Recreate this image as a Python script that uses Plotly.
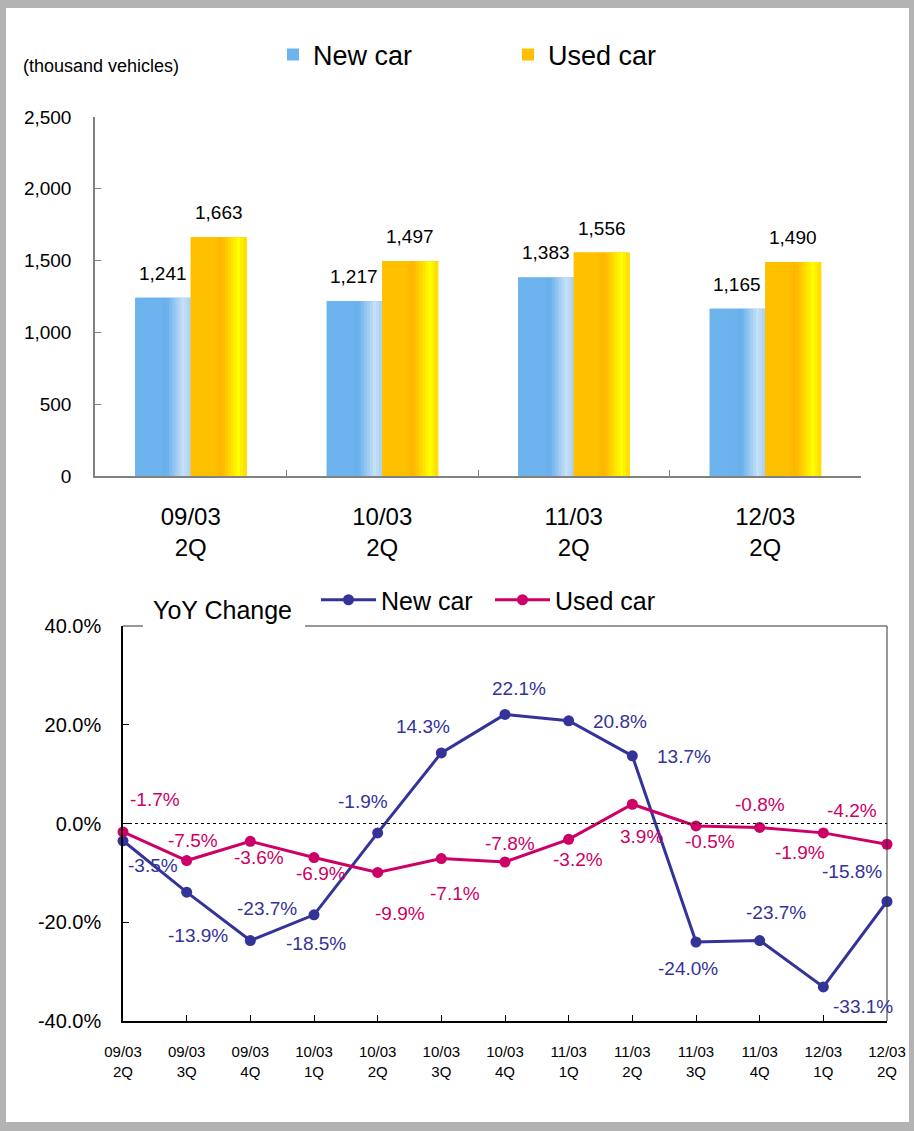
import plotly.graph_objects as go

W, H = 914, 1131

# ---------------- data ----------------
bar_periods = ["09/03<br>2Q", "10/03<br>2Q", "11/03<br>2Q", "12/03<br>2Q"]
new_units = [1241, 1217, 1383, 1165]
used_units = [1663, 1497, 1556, 1490]
unit_ticks = [0, 500, 1000, 1500, 2000, 2500]

yoy_periods = ["09/03<br>2Q", "09/03<br>3Q", "09/03<br>4Q", "10/03<br>1Q", "10/03<br>2Q",
               "10/03<br>3Q", "10/03<br>4Q", "11/03<br>1Q", "11/03<br>2Q", "11/03<br>3Q",
               "11/03<br>4Q", "12/03<br>1Q", "12/03<br>2Q"]
new_yoy = [-3.5, -13.9, -23.7, -18.5, -1.9, 14.3, 22.1, 20.8, 13.7, -24.0, -23.7, -33.1, -15.8]
used_yoy = [-1.7, -7.5, -3.6, -6.9, -9.9, -7.1, -7.8, -3.2, 3.9, -0.5, -0.8, -1.9, -4.2]
yoy_ticks = [-40, -20, 0, 20, 40]

# label placement offsets (pixels, layout only)
new_dx = [30, 11, 17, 2, -15, -18, 14, 51, 52, -8, 16, 40, -35]
new_dy = [25, 43, -32, 29, -31, -26, -26, 1, 1, 26, -28, 20, -30]
used_dx = [32, 6, 9, 7, 22, 14, 5, 9, 9, 14, 0, -23, -35]
used_dy = [-32, -20, 16, 16, 41, 35, -19, 20, 32, 16, -23, 20, -34]

FONT = "Liberation Sans, Arial, sans-serif"
NEW_C = "#333399"
USED_C = "#cc0066"


def px(x):
    return x / W


def py(y):
    return 1 - y / H


def hex2rgb(h):
    h = h.lstrip("#")
    return tuple(int(h[i:i + 2], 16) for i in (0, 2, 4))


def interp(stops, t):
    for (t0, c0), (t1, c1) in zip(stops[:-1], stops[1:]):
        if t0 <= t <= t1:
            a = 0 if t1 == t0 else (t - t0) / (t1 - t0)
            r0, g0, b0 = hex2rgb(c0)
            r1, g1, b1 = hex2rgb(c1)
            return "rgb(%d,%d,%d)" % (r0 + (r1 - r0) * a, g0 + (g1 - g0) * a, b0 + (b1 - b0) * a)
    return stops[-1][1]


blue_stops = [(0.0, "#6db3ee"), (0.46, "#6db3ee"), (0.56, "#66aeec"), (0.86, "#c6e1f8"), (1.0, "#a9d0f3")]
gold_stops = [(0.0, "#ffc000"), (0.42, "#ffc000"), (0.55, "#ffb400"), (0.86, "#ffff00"), (1.0, "#ffd800")]

fig = go.Figure()

BW = 0.29  # bar width in category units
CATW = 191.5  # px per category (for label shift)
NS = 18
for vals, stops, off0, name in [
    (new_units, blue_stops, -BW, "New car"),
    (used_units, gold_stops, 0.0, "Used car"),
]:
    fig.add_trace(go.Bar(x=bar_periods, y=vals, width=BW, offset=off0, name=name,
                         marker=dict(color=stops[0][1], line=dict(width=0)),
                         showlegend=True, legend="legend", hoverinfo="skip",
                         xaxis="x", yaxis="y"))
    for k in range(NS):
        t = (k + 0.5) / NS
        fig.add_trace(go.Bar(x=bar_periods, y=vals, width=BW / NS * 1.2,
                             offset=off0 + BW * k / NS,
                             marker=dict(color=interp(stops, t), line=dict(width=0)),
                             showlegend=False, hoverinfo="skip", xaxis="x", yaxis="y"))

annotations = []
for i, p in enumerate(bar_periods):
    annotations.append(dict(x=p, y=new_units[i], xref="x", yref="y", text=f"{new_units[i]:,}",
                            showarrow=False, xshift=-BW / 2 * CATW, yshift=12, yanchor="bottom",
                            font=dict(size=19, color="black", family=FONT)))
    annotations.append(dict(x=p, y=used_units[i], xref="x", yref="y", text=f"{used_units[i]:,}",
                            showarrow=False, xshift=BW / 2 * CATW, yshift=12, yanchor="bottom",
                            font=dict(size=19, color="black", family=FONT)))

fig.add_trace(go.Scatter(x=yoy_periods, y=new_yoy, mode="lines+markers", name="New car",
                         line=dict(color=NEW_C, width=3), marker=dict(color=NEW_C, size=11),
                         cliponaxis=False, legend="legend2", xaxis="x2", yaxis="y2", hoverinfo="skip"))
fig.add_trace(go.Scatter(x=yoy_periods, y=used_yoy, mode="lines+markers", name="Used car",
                         line=dict(color=USED_C, width=3), marker=dict(color=USED_C, size=11),
                         cliponaxis=False, legend="legend2", xaxis="x2", yaxis="y2", hoverinfo="skip"))

for i, p in enumerate(yoy_periods):
    annotations.append(dict(x=p, y=new_yoy[i], xref="x2", yref="y2", text=f"{new_yoy[i]:.1f}%",
                            showarrow=False, xshift=new_dx[i], yshift=-new_dy[i],
                            font=dict(size=19, color=NEW_C, family=FONT)))
    annotations.append(dict(x=p, y=used_yoy[i], xref="x2", yref="y2", text=f"{used_yoy[i]:.1f}%",
                            showarrow=False, xshift=used_dx[i], yshift=-used_dy[i],
                            font=dict(size=19, color=USED_C, family=FONT)))

annotations.append(dict(x=px(21), y=py(66), xref="paper", yref="paper", text="(thousand vehicles)",
                        showarrow=False, xanchor="left", yanchor="middle",
                        font=dict(size=18, color="black", family=FONT)))
annotations.append(dict(x=px(222), y=py(610), xref="paper", yref="paper", text="YoY Change",
                        showarrow=False, xanchor="center", yanchor="middle",
                        font=dict(size=25, color="black", family=FONT)))

grey = "#b3b3b3"
shapes = [
    dict(type="rect", xref="paper", yref="paper", x0=0, x1=px(6), y0=0, y1=1, fillcolor=grey, line=dict(width=0)),
    dict(type="rect", xref="paper", yref="paper", x0=px(909), x1=1, y0=0, y1=1, fillcolor=grey, line=dict(width=0)),
    dict(type="rect", xref="paper", yref="paper", x0=0, x1=1, y0=py(8), y1=1, fillcolor=grey, line=dict(width=0)),
    dict(type="rect", xref="paper", yref="paper", x0=0, x1=1, y0=0, y1=py(1122), fillcolor=grey, line=dict(width=0)),
    # frame of YoY plot (top broken by title, right side)
    dict(type="line", xref="paper", yref="paper", x0=px(123), x1=px(143), y0=py(626), y1=py(626),
         line=dict(color="#333333", width=1)),
    dict(type="line", xref="paper", yref="paper", x0=px(305), x1=px(887), y0=py(626), y1=py(626),
         line=dict(color="#333333", width=1)),
    dict(type="line", xref="paper", yref="paper", x0=px(887), x1=px(887), y0=py(626), y1=py(1021),
         line=dict(color="#333333", width=1)),
    # zero line
    dict(type="line", xref="x2 domain", yref="y2", x0=0, x1=1, y0=0, y1=0,
         line=dict(color="black", width=1, dash="dot")),
]

fig.update_layout(
    width=W, height=H, autosize=False,
    margin=dict(l=0, r=0, t=0, b=0),
    paper_bgcolor="white", plot_bgcolor="rgba(0,0,0,0)",
    font=dict(family=FONT, color="black"),
    barmode="overlay",
    showlegend=True,
    annotations=annotations,
    shapes=shapes,
    xaxis=dict(domain=[px(95), px(861)], anchor="y", type="category", range=[-0.5, 3.5],
               tickson="boundaries", ticks="inside", ticklen=6, tickcolor="#808080", tickwidth=1,
               showline=True, linecolor="#808080", linewidth=2, showgrid=False,
               tickfont=dict(size=24, family=FONT), ticklabelstandoff=18, automargin=False),
    yaxis=dict(domain=[py(476), py(117)], anchor="x", range=[0, 2500],
               tickvals=unit_ticks, ticktext=[f"{v:,}" for v in unit_ticks],
               ticks="inside", ticklen=6, tickcolor="#808080", showline=True, linecolor="#808080",
               linewidth=1.5, showgrid=False, zeroline=False,
               tickfont=dict(size=19, family=FONT), ticklabelstandoff=18, automargin=False),
    xaxis2=dict(domain=[px(123), px(887)], anchor="y2", type="category", range=[0, 12],
                ticks="inside", ticklen=6, tickcolor="black", showline=True, linecolor="black",
                linewidth=2, showgrid=False, tickfont=dict(size=15, family=FONT),
                ticklabelstandoff=16, automargin=False),
    yaxis2=dict(domain=[py(1021), py(626)], anchor="x2", range=[-40, 40],
                tickvals=yoy_ticks, ticktext=[f"{v:.1f}%" for v in yoy_ticks],
                ticks="inside", ticklen=6, tickcolor="black",
                showline=True, linecolor="black", linewidth=1.5, showgrid=False, zeroline=False,
                tickfont=dict(size=20, family=FONT), ticklabelstandoff=16, automargin=False),
    legend=dict(orientation="h", x=px(273), y=py(55), xanchor="left", yanchor="middle",
                font=dict(size=27, family=FONT), bgcolor="rgba(0,0,0,0)", entrywidth=190,
                traceorder="normal"),
    legend2=dict(orientation="h", x=px(316), y=py(600), xanchor="left", yanchor="middle",
                 font=dict(size=25, family=FONT), bgcolor="rgba(0,0,0,0)", itemwidth=55,
                 entrywidth=104, traceorder="normal"),
)

fig.write_html("out.html", config={"displayModeBar": False},
               post_script="document.body.style.margin='0';document.body.style.overflow='hidden';")
